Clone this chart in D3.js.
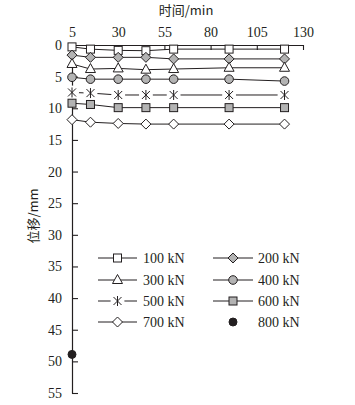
<!DOCTYPE html>
<html><head><meta charset="utf-8">
<script src="https://cdn.jsdelivr.net/npm/d3@7"></script>
<style>body{margin:0;background:#fff;}svg{display:block;}</style>
</head><body>
<svg id="c" width="355" height="405"></svg>
<script>
const times = [5, 15, 30, 45, 60, 90, 120];
const xTicks = [5, 30, 55, 80, 105, 130];
const yTicks = [0, 5, 10, 15, 20, 25, 30, 35, 40, 45, 50, 55];
const loads = ["100 kN", "200 kN", "300 kN", "400 kN", "500 kN", "600 kN", "700 kN", "800 kN"];
const s100 = [0.3, 0.65, 0.85, 0.9, 0.65, 0.65, 0.65];
const s200 = [1.6, 1.95, 1.95, 1.95, 2.2, 2.2, 2.2];
const s300 = [3.0, 3.8, 3.7, 3.9, 3.8, 3.6, 3.6];
const s400 = [5.1, 5.4, 5.4, 5.4, 5.4, 5.4, 5.7];
const s500 = [7.5, 7.6, 7.9, 7.9, 7.9, 7.9, 7.9];
const s600 = [9.2, 9.4, 9.9, 9.9, 9.9, 9.9, 9.9];
const s700 = [11.8, 12.2, 12.4, 12.5, 12.5, 12.5, 12.5];
const s800 = [48.9];
const t800 = [5];

const series = [
  {name: loads[0], t: times, v: s100, m: "square", fill: "#fff"},
  {name: loads[1], t: times, v: s200, m: "diamond", fill: "#b3b3b3"},
  {name: loads[2], t: times, v: s300, m: "triangle", fill: "#fff"},
  {name: loads[3], t: times, v: s400, m: "circle", fill: "#b3b3b3"},
  {name: loads[4], t: times, v: s500, m: "asterisk", fill: "#fff"},
  {name: loads[5], t: times, v: s600, m: "square", fill: "#b3b3b3"},
  {name: loads[6], t: times, v: s700, m: "diamond", fill: "#fff"},
  {name: loads[7], t: t800, v: s800, m: "dot", fill: "#231f20"}
];

const svg = d3.select("#c");
const x = d3.scaleLinear().domain([5, 130]).range([72, 303]);
const y = d3.scaleLinear().domain([0, 55]).range([45, 393]);
const serif = "'Liberation Serif','DejaVu Serif',serif";
const ink = "#231f20";

// axes
const xAxis = d3.axisTop(x).tickValues(xTicks).tickSizeInner(-5).tickSizeOuter(0).tickPadding(8);
const gx = svg.append("g").attr("transform", `translate(0,${y(0)})`).call(xAxis);
const yAxis = d3.axisLeft(y).tickValues(yTicks).tickSizeInner(-6).tickSizeOuter(0).tickPadding(10);
const gy = svg.append("g").attr("transform", `translate(${x(5)},0)`).call(yAxis);
[gx, gy].forEach(g => {
  g.select(".domain").attr("stroke", ink).attr("stroke-width", 1.2);
  g.selectAll(".tick line").attr("stroke", ink).attr("stroke-width", 1.1);
  g.selectAll(".tick text").attr("fill", ink).style("font-family", serif).style("font-size", "14px");
});
gy.selectAll(".tick line").filter(d => d === 0).remove();

svg.append("text").attr("x", 186).attr("y", 15).attr("text-anchor", "middle")
  .style("font-family", "'Noto Sans CJK SC',sans-serif").style("font-size", "13px").attr("fill", ink)
  .text("时间/min");
svg.append("text").attr("transform", "translate(38,216) rotate(-90)").attr("text-anchor", "middle")
  .style("font-family", "'Noto Sans CJK SC',sans-serif").style("font-size", "13px").attr("fill", ink)
  .text("位移/mm");

function marker(g, type, fill, cx, cy) {
  const st = {stroke: ink, "stroke-width": 1};
  let el;
  if (type === "square") {
    el = g.append("rect").attr("x", cx - 4).attr("y", cy - 4).attr("width", 8).attr("height", 8);
  } else if (type === "diamond") {
    el = g.append("path").attr("d", `M${cx},${cy-5}L${cx+5},${cy}L${cx},${cy+5}L${cx-5},${cy}Z`);
  } else if (type === "triangle") {
    el = g.append("path").attr("d", `M${cx},${cy-5.5}L${cx+5},${cy+3.5}L${cx-5},${cy+3.5}Z`);
  } else if (type === "circle") {
    el = g.append("circle").attr("cx", cx).attr("cy", cy).attr("r", 4.3);
  } else if (type === "dot") {
    el = g.append("circle").attr("cx", cx).attr("cy", cy).attr("r", 4);
  } else if (type === "asterisk") {
    g.append("circle").attr("cx", cx).attr("cy", cy).attr("r", 7).attr("fill", "#fff");
    g.append("path").attr("d", `M${cx-4},${cy-4}L${cx+4},${cy+4}M${cx-4},${cy+4}L${cx+4},${cy-4}M${cx},${cy-5}L${cx},${cy+5}`)
      .attr("stroke", ink).attr("stroke-width", 1).attr("fill", "none");
    return;
  }
  el.attr("fill", fill);
  Object.entries(st).forEach(([k, v]) => el.attr(k, v));
}

const line = d3.line().x(d => x(d[0])).y(d => y(d[1]));
const gl = svg.append("g");
series.forEach(s => {
  if (s.v.length > 1) {
    gl.append("path").datum(s.t.map((t, i) => [t, s.v[i]])).attr("d", line)
      .attr("fill", "none").attr("stroke", ink).attr("stroke-width", 1);
  }
});
const gm = svg.append("g");
series.forEach(s => {
  s.t.forEach((t, i) => marker(gm, s.m, s.fill, x(t), y(s.v[i])));
});

// legend
const lg = svg.append("g");
const rows = [258, 280, 301, 322];
series.forEach((s, i) => {
  const col = i % 2, row = Math.floor(i / 2);
  const x0 = col === 0 ? 98 : 213, x1 = col === 0 ? 137 : 253, mx = col === 0 ? 117.5 : 233;
  const yy = rows[row];
  if (s.m !== "dot") {
    lg.append("line").attr("x1", x0).attr("x2", x1).attr("y1", yy).attr("y2", yy).attr("stroke", ink).attr("stroke-width", 1);
  }
  marker(lg, s.m, s.fill, mx, yy);
  lg.append("text").attr("x", col === 0 ? 143 : 258).attr("y", yy + 5)
    .style("font-family", serif).style("font-size", "14px").attr("fill", ink).text(s.name);
});
</script>
</body></html>
